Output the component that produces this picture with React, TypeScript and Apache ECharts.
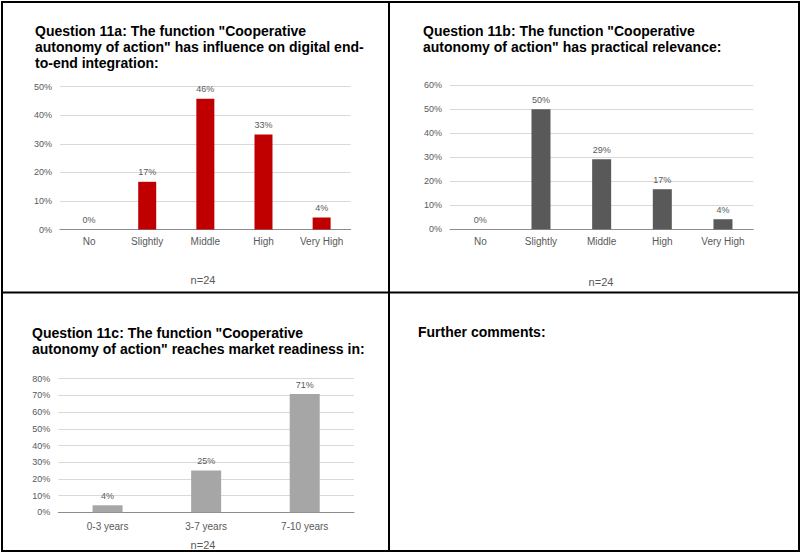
import React, { useEffect, useRef } from "react";
import * as echarts from "echarts";

const levelCategories = ["No", "Slightly", "Middle", "High", "Very High"];
const influenceValues = [0, 16.7, 45.8, 33.3, 4.2];
const relevanceValues = [0, 50, 29.2, 16.7, 4.2];
const readinessCategories = ["0-3 years", "3-7 years", "7-10 years"];
const readinessValues = [4.2, 25, 70.8];
const sampleLabel = "n=24";

const titleA = 'Question 11a: The function "Cooperative\nautonomy of action" has influence on digital end-\nto-end integration:';
const titleB = 'Question 11b: The function "Cooperative\nautonomy of action" has practical relevance:';
const titleC = 'Question 11c: The function "Cooperative\nautonomy of action" reaches market readiness in:';
const titleD = "Further comments:";

const FONT = '"Liberation Sans", Arial, sans-serif';
const GREY_TEXT = "#595959";

export default function App() {
  const ref = useRef<HTMLDivElement>(null);
  useEffect(() => {
    if (!ref.current) return;
    const chart = echarts.init(ref.current, null, { renderer: "svg" });

    const xAxisCommon = (gridIndex: number, data: string[], margin: number) => ({
      type: "category",
      gridIndex,
      data,
      axisLine: { show: true, lineStyle: { color: "#8C8C8C", width: 1 } },
      axisTick: { show: false },
      axisLabel: { color: GREY_TEXT, fontSize: 10, fontFamily: FONT, margin },
    });
    const yAxisCommon = (gridIndex: number, max: number) => ({
      type: "value",
      gridIndex,
      min: 0,
      max,
      interval: 10,
      axisLine: { show: false },
      axisTick: { show: false },
      splitLine: { lineStyle: { color: "#D9D9D9", width: 1 } },
      axisLabel: { color: GREY_TEXT, fontSize: 9, fontFamily: FONT, formatter: "{value}%", margin: 8 },
    });
    const barSeries = (idx: number, data: number[], color: string, barWidth: number) => ({
      type: "bar",
      xAxisIndex: idx,
      yAxisIndex: idx,
      data,
      barWidth,
      itemStyle: { color },
      label: {
        show: true,
        position: "top",
        distance: 5,
        color: GREY_TEXT,
        fontSize: 9,
        fontFamily: FONT,
        formatter: (p: any) => Math.round(p.value) + "%",
      },
    });
    const titleStyle = { fontFamily: FONT, fontSize: 14, fontWeight: "bold", color: "#000", lineHeight: 16 };

    chart.setOption({
      animation: false,
      backgroundColor: "#fff",
      title: [
        { text: titleA, left: 35, top: 23, padding: 0, textStyle: titleStyle },
        { text: titleB, left: 423, top: 23, padding: 0, textStyle: titleStyle },
        { text: titleC, left: 32, top: 325, padding: 0, textStyle: titleStyle },
        { text: titleD, left: 418, top: 324, padding: 0, textStyle: titleStyle },
      ],
      grid: [
        { left: 60, top: 86.7, width: 290.7, height: 142.8, containLabel: false },
        { left: 450, top: 85.3, width: 303.3, height: 144, containLabel: false },
        { left: 58.3, top: 378.7, width: 295.7, height: 133.6, containLabel: false },
      ],
      xAxis: [
        xAxisCommon(0, levelCategories, 7),
        xAxisCommon(1, levelCategories, 7),
        xAxisCommon(2, readinessCategories, 9),
      ],
      yAxis: [yAxisCommon(0, 50), yAxisCommon(1, 60), yAxisCommon(2, 80)],
      series: [
        barSeries(0, influenceValues, "#C00000", 18),
        barSeries(1, relevanceValues, "#595959", 19),
        barSeries(2, readinessValues, "#A6A6A6", 30),
      ],
      graphic: [
        { type: "text", x: 203, y: 280, style: { text: sampleLabel, fill: GREY_TEXT, font: `11px ${FONT}`, textAlign: "center", textVerticalAlign: "middle" } },
        { type: "text", x: 601, y: 282, style: { text: sampleLabel, fill: GREY_TEXT, font: `11px ${FONT}`, textAlign: "center", textVerticalAlign: "middle" } },
        { type: "text", x: 203, y: 544.5, style: { text: sampleLabel, fill: GREY_TEXT, font: `11px ${FONT}`, textAlign: "center", textVerticalAlign: "middle" } },
        { type: "rect", shape: { x: 2, y: 2, width: 797, height: 549 }, style: { fill: "none", stroke: "#000", lineWidth: 2 }, silent: true },
        { type: "line", shape: { x1: 389, y1: 2, x2: 389, y2: 551 }, style: { stroke: "#000", lineWidth: 2 }, silent: true },
        { type: "line", shape: { x1: 2, y1: 292.5, x2: 799, y2: 292.5 }, style: { stroke: "#000", lineWidth: 2 }, silent: true },
      ],
    });
    return () => chart.dispose();
  }, []);
  return <div ref={ref} style={{ position: "absolute", left: 0, top: 0, width: 800, height: 553 }} />;
}
